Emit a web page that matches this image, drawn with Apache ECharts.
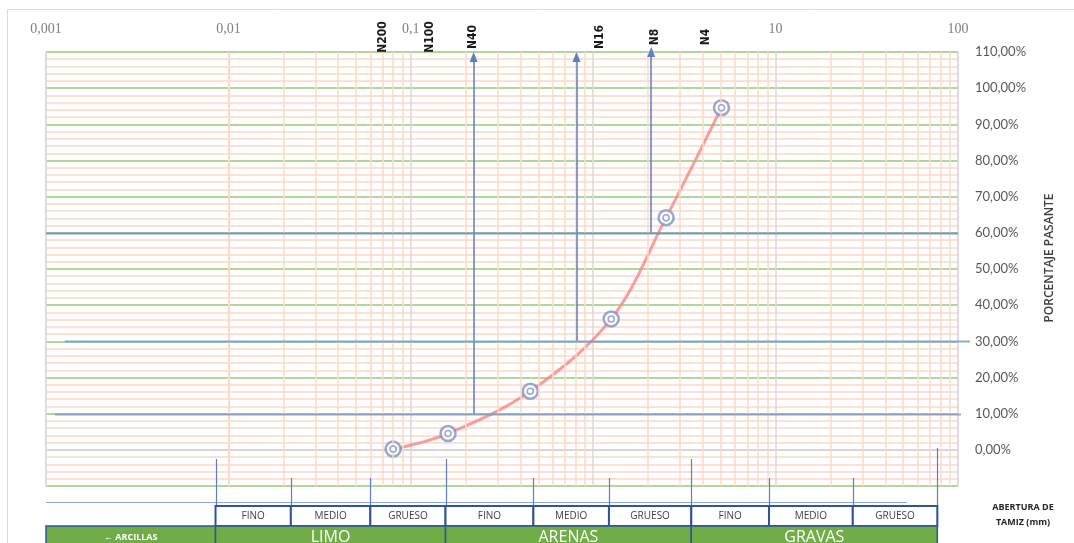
<!DOCTYPE html>
<html>
<head>
<meta charset="utf-8">
<script src="https://cdn.jsdelivr.net/npm/echarts@6/dist/echarts.min.js"></script>
<style>
  html, body { margin: 0; padding: 0; background: #ffffff; }
  #chart { width: 1074px; height: 543px; }
</style>
</head>
<body>
<div id="chart"></div>
<script>
// Granulometric curve: sieve openings (mm) and percent passing
const sieveNames = ['N200', 'N100', 'N40', 'N16', 'N8', 'N4'];
const apertureMm = [0.080, 0.160, 0.452, 1.255, 2.51, 5.05];
const passingPct = [0.2, 4.5, 16.2, 36.2, 64.2, 94.6];

// Characteristic diameters (percent passing and opening in mm)
const charPct = [10, 30, 60];
const charMm = [0.221, 0.81, 2.08];

// Axis ticks
const xTickText = { '-3': '0,001', '-2': '0,01', '-1': '0,1', '0': '', '1': '10', '2': '100' };
const yMin = -10, yMax = 110, yStep = 10;

// Soil classification limits along the aperture axis (mm)
const mainLimits = [0.001, 0.0085, 0.155, 3.45, 77];
const mainNames = ['← ARCILLAS', 'LIMO', 'ARENAS', 'GRAVAS'];
const subLimits = [0.0085, 0.022, 0.06, 0.155, 0.47, 1.22, 3.45, 9.2, 26.5, 77];
const subNames = ['FINO', 'MEDIO', 'GRUESO', 'FINO', 'MEDIO', 'GRUESO', 'FINO', 'MEDIO', 'GRUESO'];

const chart = echarts.init(document.getElementById('chart'), null, { renderer: 'canvas' });

// minor log grid lines (2..9 within each decade)
const minorX = [];
[0.001, 0.01, 0.1, 1, 10].forEach(d => { for (let k = 2; k <= 9; k++) minorX.push({ xAxis: d * k }); });

const ySplitColors = [];
for (let v = yMin; v <= yMax; v += yStep) ySplitColors.push(v === 0 ? '#d6d6d6' : '#b2d69a');

const curve = apertureMm.map((x, i) => [x, passingPct[i]]);

chart.setOption({
  animation: false,
  grid: { left: 46, right: 116, top: 52, bottom: 57, show: true, borderColor: '#d9d9d9', borderWidth: 1 },
  xAxis: {
    type: 'log', logBase: 10, min: 0.001, max: 100, position: 'top',
    axisLine: { show: false }, axisTick: { show: false },
    axisLabel: {
      margin: 16, color: '#7f7f7f', fontFamily: 'Liberation Serif', fontSize: 14,
      formatter: v => xTickText[String(Math.round(Math.log10(v)))] ?? ''
    },
    splitLine: { show: true, lineStyle: { color: '#d9d9d9', width: 1.5 } }
  },
  yAxis: {
    type: 'value', min: yMin, max: yMax, interval: yStep, position: 'right',
    axisLine: { show: false }, axisTick: { show: false },
    axisLabel: {
      margin: 17, color: '#595959', fontFamily: 'Lato', fontSize: 13,
      formatter: v => v < 0 ? '' : v.toFixed(2).replace('.', ',') + '%'
    },
    splitLine: { show: true, lineStyle: { color: ySplitColors, width: 2 } },
    minorTick: { show: false, splitNumber: 5 },
    minorSplitLine: { show: true, lineStyle: { color: '#fcd9c8', width: 1.5 } }
  },
  series: [
    {
      // vertical minor grid
      type: 'line', data: [], z: -1, silent: true,
      markLine: {
        silent: true, symbol: 'none', label: { show: false },
        lineStyle: { color: '#fcd9c8', width: 1.5, type: 'solid' },
        data: minorX
      }
    },
    {
      // characteristic diameters: vertical guides with arrow heads
      type: 'line', data: [], z: 1, silent: true,
      markLine: {
        silent: true, label: { show: false }, animation: false,
        lineStyle: { color: '#5a7fc2', width: 1.5, type: 'solid' },
        symbol: ['none', 'triangle'], symbolSize: [8, 10],
        data: charMm.map((m, i) => [
          { coord: [m, charPct[i]] },
          { coord: [m, i === 2 ? 110 : 108.6] }
        ])
      }
    },
    {
      type: 'line', data: curve, smooth: 0.35, z: 3,
      lineStyle: { color: 'rgba(248,140,140,0.85)', width: 3 },
      symbol: 'none', silent: true
    },
    {
      type: 'scatter', data: curve, z: 4, symbol: 'circle', symbolSize: 15,
      itemStyle: { color: '#ffffff', borderColor: '#7c93c6', borderWidth: 2.5 }
    },
    {
      type: 'scatter', data: curve, z: 5, symbol: 'circle', symbolSize: 6,
      itemStyle: { color: '#ffffff', borderColor: '#7c93c6', borderWidth: 1.5 }
    }
  ]
});

// overlay: guide lines, sieve labels, classification table, titles
const px = v => chart.convertToPixel({ xAxisIndex: 0 }, v);
const py = v => chart.convertToPixel({ yAxisIndex: 0 }, v);
const gLeft = px(0.001), gRight = px(100);
const g = [];

// horizontal guides at characteristic percentages
const hExt = [[0, 0], [19, 12], [9, 3]];
[60, 30, 10].forEach((p, i) => {
  const y = Math.round(py(p)) + 0.5;
  g.push({ type: 'line', z: 50, shape: { x1: gLeft + hExt[i][0], y1: y, x2: gRight + hExt[i][1], y2: y },
    style: { stroke: p === 60 ? '#6d8cc6' : '#7e98c8', lineWidth: 2, opacity: 0.85 } });
});

// sieve labels (rotated)
const sieveLabelX = [383, 430, 473, 600, 655, 706];
sieveNames.forEach((n, i) => {
  g.push({ type: 'text', z: 60, x: sieveLabelX[i], y: 37, rotation: Math.PI / 2,
    style: { text: n, font: 'bold 12px "Liberation Sans Narrow", "DejaVu Sans Condensed", sans-serif',
      fill: '#1a1a1a', align: 'center', verticalAlign: 'middle' } });
});

// thin line under the grid
g.push({ type: 'line', z: 40, shape: { x1: gLeft, y1: 502.5, x2: 907, y2: 502.5 },
  style: { stroke: '#8fa6d6', lineWidth: 1.2 } });

// vertical ticks linking the classification limits to the grid
const gridBottom = py(yMin);
subLimits.forEach((m, i) => {
  const x = Math.round(px(m)) + 0.5;
  const main = mainLimits.includes(m);
  const top = i === subLimits.length - 1 ? py(0) - 2 : (main ? gridBottom - 27 : gridBottom - 8);
  g.push({ type: 'line', z: 40, shape: { x1: x, y1: top, x2: x, y2: 526 },
    style: { stroke: '#5b7fc4', lineWidth: 1.2 } });
});

// sub-class boxes
subNames.forEach((n, i) => {
  const x1 = px(subLimits[i]), x2 = px(subLimits[i + 1]);
  g.push({ type: 'rect', z: 45, shape: { x: x1, y: 506, width: x2 - x1, height: 20 },
    style: { fill: '#ffffff', stroke: '#2f5597', lineWidth: 2 } });
  g.push({ type: 'text', z: 46, x: (x1 + x2) / 2, y: 516,
    style: { text: n, font: '10px "Open Sans", sans-serif', fill: '#404040', align: 'center', verticalAlign: 'middle' } });
});

// main class band
mainNames.forEach((n, i) => {
  const x1 = px(mainLimits[i]), x2 = px(mainLimits[i + 1]);
  g.push({ type: 'rect', z: 45, shape: { x: x1, y: 526, width: x2 - x1, height: 20 },
    style: { fill: '#70ad47', stroke: '#2f5597', lineWidth: 1.5 } });
  g.push({ type: 'text', z: 46, x: (x1 + x2) / 2, y: 537,
    style: { text: n, font: i === 0 ? 'bold 9px "Open Sans", sans-serif' : '16px "Open Sans", sans-serif',
      fill: '#ffffff', align: 'center', verticalAlign: 'middle' } });
});

// axis titles
g.push({ type: 'text', z: 60, x: 1050, y: 258, rotation: Math.PI / 2,
  style: { text: 'PORCENTAJE PASANTE', font: '600 12px "Open Sans", sans-serif', fill: '#404040',
    align: 'center', verticalAlign: 'middle' } });
g.push({ type: 'text', z: 60, x: 1023, y: 515,
  style: { text: 'ABERTURA DE\nTAMIZ (mm)', font: 'bold 9px "Open Sans", sans-serif', fill: '#262626',
    align: 'center', verticalAlign: 'middle', lineHeight: 15 } });

// chart outline
g.push({ type: 'rect', z: 0, shape: { x: 7.5, y: 9.5, width: 1100, height: 600 },
  style: { fill: 'none', stroke: '#d9d9d9', lineWidth: 1 } });

chart.setOption({ graphic: g });
</script>
</body>
</html>
